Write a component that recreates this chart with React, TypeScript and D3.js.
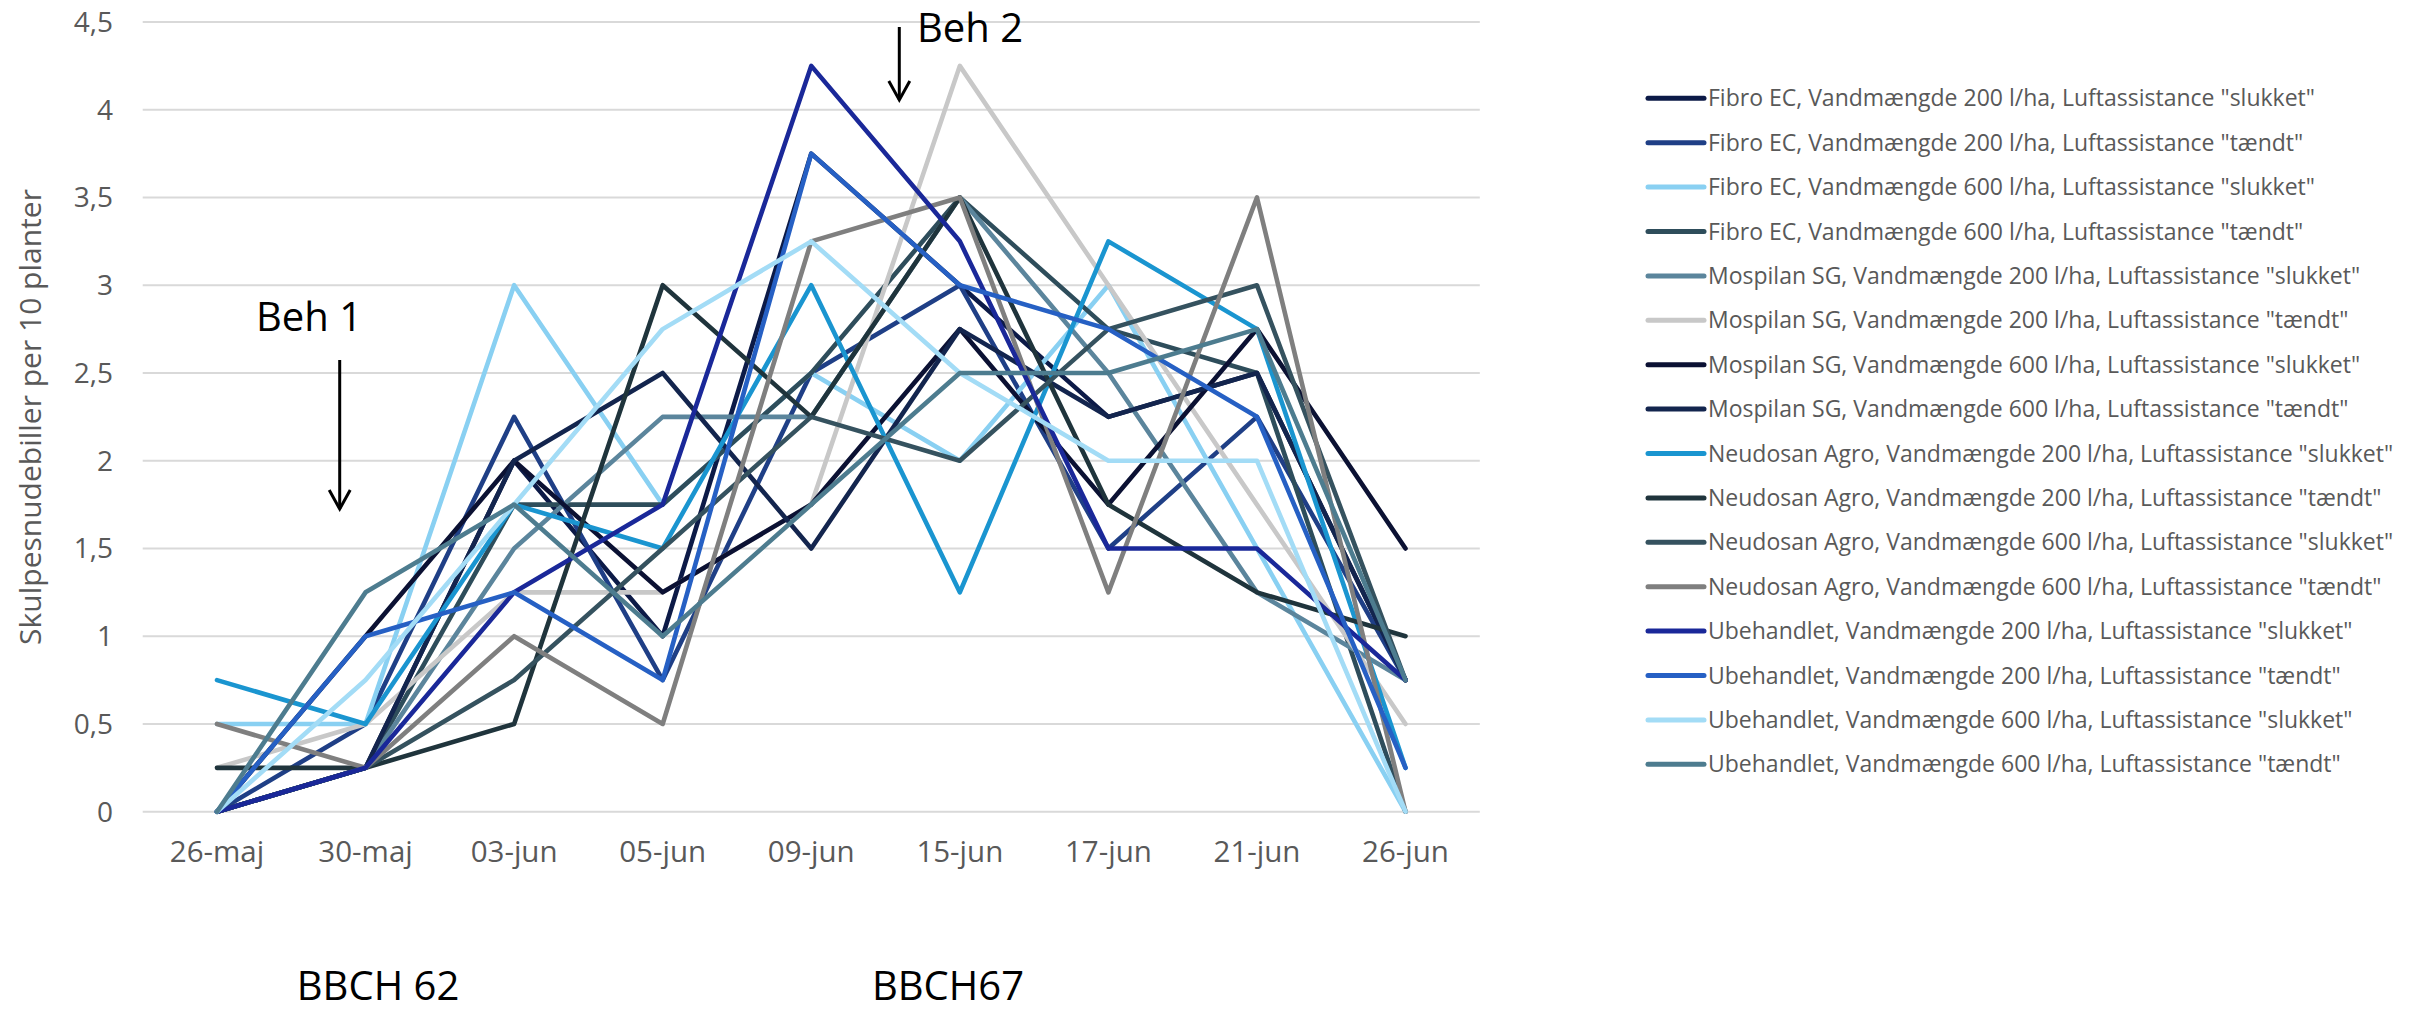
import React from "react";
import * as d3 from "d3";

const categories = ["26-maj", "30-maj", "03-jun", "05-jun", "09-jun", "15-jun", "17-jun", "21-jun", "26-jun"];
const yTicks = [0, 0.5, 1, 1.5, 2, 2.5, 3, 3.5, 4, 4.5];

const seriesNames = [
  'Fibro EC, Vandmængde 200 l/ha, Luftassistance "slukket"',
  'Fibro EC, Vandmængde 200 l/ha, Luftassistance "tændt"',
  'Fibro EC, Vandmængde 600 l/ha, Luftassistance "slukket"',
  'Fibro EC, Vandmængde 600 l/ha, Luftassistance "tændt"',
  'Mospilan SG, Vandmængde 200 l/ha, Luftassistance "slukket"',
  'Mospilan SG, Vandmængde 200 l/ha, Luftassistance "tændt"',
  'Mospilan SG, Vandmængde 600 l/ha, Luftassistance "slukket"',
  'Mospilan SG, Vandmængde 600 l/ha, Luftassistance "tændt"',
  'Neudosan Agro, Vandmængde 200 l/ha, Luftassistance "slukket"',
  'Neudosan Agro, Vandmængde 200 l/ha, Luftassistance "tændt"',
  'Neudosan Agro, Vandmængde 600 l/ha, Luftassistance "slukket"',
  'Neudosan Agro, Vandmængde 600 l/ha, Luftassistance "tændt"',
  'Ubehandlet, Vandmængde 200 l/ha, Luftassistance "slukket"',
  'Ubehandlet, Vandmængde 200 l/ha, Luftassistance "tændt"',
  'Ubehandlet, Vandmængde 600 l/ha, Luftassistance "slukket"',
  'Ubehandlet, Vandmængde 600 l/ha, Luftassistance "tændt"',
];

const seriesColors = [
  "#0c1a47", "#1f3f86", "#89d0f2", "#2e4d5b",
  "#5b859c", "#c8c8c8", "#0b1133", "#13254e",
  "#1a95d0", "#1f343c", "#35525f", "#7f7f7f",
  "#1a2899", "#2660c4", "#a3dcf6", "#4d7c8f",
];

const fibro200Slukket = [0, 0.25, 2.0, 1.0, 3.75, 3.0, 2.25, 2.5, 0.75];
const fibro200Taendt = [0, 0.5, 2.25, 0.75, 2.5, 3.0, 1.5, 2.25, 0.75];
const fibro600Slukket = [0.5, 0.5, 3.0, 1.75, 2.5, 2.0, 3.0, 1.5, 0];
const fibro600Taendt = [0, 0.25, 1.75, 1.75, 2.5, 3.5, 2.75, 2.5, 0];
const mospilan200Slukket = [0, 0.25, 1.5, 2.25, 2.25, 3.5, 2.5, 1.25, 0.75];
const mospilan200Taendt = [0.25, 0.5, 1.25, 1.25, 1.75, 4.25, 3.0, 1.75, 0.5];
const mospilan600Slukket = [0, 1.0, 2.0, 1.25, 1.75, 2.75, 1.75, 2.75, 1.5];
const mospilan600Taendt = [0, 0.25, 2.0, 2.5, 1.5, 2.75, 2.25, 2.5, 0.75];
const neudosan200Slukket = [0.75, 0.5, 1.75, 1.5, 3.0, 1.25, 3.25, 2.75, 0.25];
const neudosan200Taendt = [0.25, 0.25, 0.5, 3.0, 2.25, 3.5, 1.75, 1.25, 1.0];
const neudosan600Slukket = [0, 0.25, 0.75, 1.5, 2.25, 2.0, 2.75, 3.0, 0.75];
const neudosan600Taendt = [0.5, 0.25, 1.0, 0.5, 3.25, 3.5, 1.25, 3.5, 0];
const ubeh200Slukket = [0, 0.25, 1.25, 1.75, 4.25, 3.25, 1.5, 1.5, 0.75];
const ubeh200Taendt = [0, 1.0, 1.25, 0.75, 3.75, 3.0, 2.75, 2.25, 0.25];
const ubeh600Slukket = [0, 0.75, 1.75, 2.75, 3.25, 2.5, 2.0, 2.0, 0];
const ubeh600Taendt = [0, 1.25, 1.75, 1.0, 1.75, 2.5, 2.5, 2.75, 0.75];

const seriesValues = [
  fibro200Slukket, fibro200Taendt, fibro600Slukket, fibro600Taendt,
  mospilan200Slukket, mospilan200Taendt, mospilan600Slukket, mospilan600Taendt,
  neudosan200Slukket, neudosan200Taendt, neudosan600Slukket, neudosan600Taendt,
  ubeh200Slukket, ubeh200Taendt, ubeh600Slukket, ubeh600Taendt,
];

const yTitle = "Skulpesnudebiller per 10 planter";
const FONT = "'Century Gothic', 'Open Sans', sans-serif";

export default function App() {
  const W = 2420, H = 1013;
  const x = d3.scaleBand<string>().domain(categories).range([142.7, 1479.8]);
  const y = d3.scaleLinear().domain([0, 4.5]).range([811.7, 22]);
  const cx = (c: string) => (x(c) as number) + x.bandwidth() / 2;
  const line = d3.line<number>().x((_, i) => cx(categories[i])).y((d) => y(d));

  const legendX = 1648;
  const legendY0 = 98.3;
  const legendStep = 44.4;

  const arrow = (xa: number, y1: number, y2: number) => (
    <g stroke="#000" strokeWidth={3} fill="none">
      <line x1={xa} y1={y1} x2={xa} y2={y2} />
      <polyline points={`${xa - 10.5},${y2 - 19} ${xa},${y2} ${xa + 10.5},${y2 - 19}`} strokeLinejoin="miter" />
    </g>
  );

  return (
    <svg width={W} height={H} style={{ position: "absolute", left: 0, top: 0, background: "#fff" }} fontFamily={FONT}>
      {yTicks.map((t) => (
        <g key={t}>
          <line x1={142.7} x2={1479.8} y1={y(t)} y2={y(t)} stroke="#d9d9d9" strokeWidth={2} />
          <text x={113} y={y(t) + 10} textAnchor="end" fontSize={28} fill="#595959">
            {String(t).replace(".", ",")}
          </text>
        </g>
      ))}
      {categories.map((c) => (
        <text key={c} x={cx(c)} y={862} textAnchor="middle" fontSize={29.5} fill="#595959">
          {c}
        </text>
      ))}
      <text transform={`translate(41,417) rotate(-90)`} textAnchor="middle" fontSize={30} fill="#595959">
        {yTitle}
      </text>
      {seriesValues.map((vals, i) => (
        <path key={i} d={line(vals) as string} fill="none" stroke={seriesColors[i]} strokeWidth={4.6}
          strokeLinejoin="round" strokeLinecap="round" />
      ))}
      {seriesNames.map((n, i) => {
        const yy = legendY0 + i * legendStep;
        return (
          <g key={n}>
            <line x1={legendX} x2={legendX + 56} y1={yy} y2={yy} stroke={seriesColors[i]} strokeWidth={5} strokeLinecap="round" />
            <text x={legendX + 60} y={yy + 8} fontSize={23} fill="#595959">{n}</text>
          </g>
        );
      })}
      <text x={256} y={331} fontSize={40} fill="#000">Beh 1</text>
      {arrow(339.7, 360, 509)}
      <text x={917} y={42} fontSize={40} fill="#000">Beh 2</text>
      {arrow(899.3, 27, 100)}
      <text x={378} y={1000} textAnchor="middle" fontSize={40} fill="#000">BBCH 62</text>
      <text x={948} y={1000} textAnchor="middle" fontSize={40} fill="#000">BBCH67</text>
    </svg>
  );
}
